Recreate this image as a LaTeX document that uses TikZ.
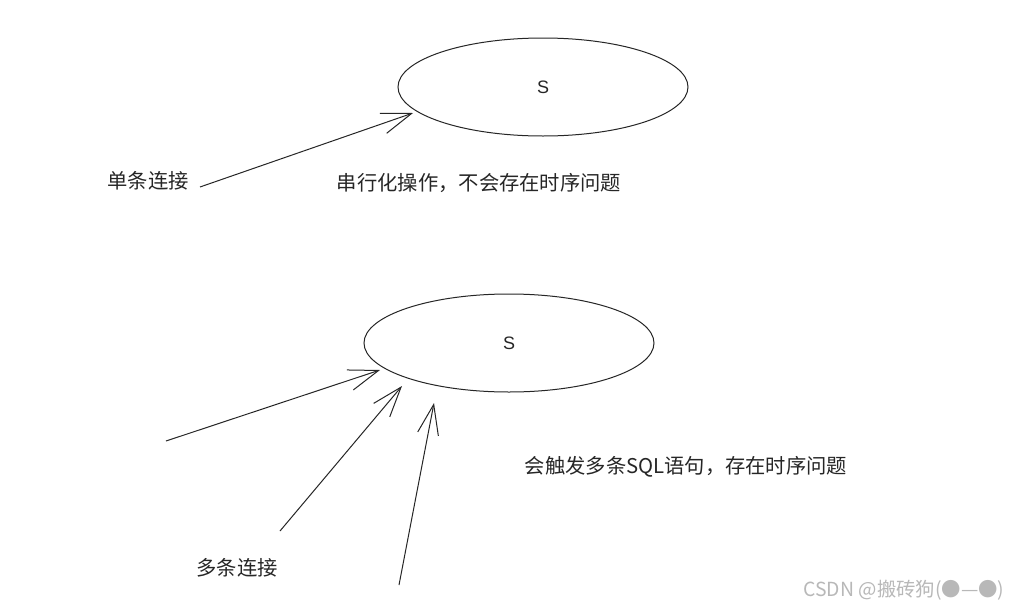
\documentclass[tikz,border=0pt]{standalone}
\usepackage{fontspec}
\setmainfont{Liberation Sans}
\newfontfamily\cjk{Noto Sans CJK SC}
\usetikzlibrary{arrows.meta,shapes.geometric}
\tikzset{
	sline/.style={line width=1pt, color=black!85},
	sarrow/.style={sline, -{Straight Barb[length=30pt,width=21pt]}},
	sbubble/.style={sline, ellipse, minimum width=290pt, minimum height=98pt, inner sep=0pt, font=\fontsize{18}{20}\selectfont, text=black!85},
	stext/.style={font=\cjk\fontsize{20.3}{23}\selectfont, text=black!85, inner sep=0pt},
}

\begin{document}
\begin{tikzpicture}[x=1pt, y=-1pt]
			%%%%% START %%%%%
			\useasboundingbox[fill=white] (0, 0) rectangle (1010, 608);
			
			% single connection
			\node[sbubble, draw] (s1) at (543, 87) {S};
			\node[stext] (single) at (148, 181) {单条连接};
			\node[stext] (serial) at (479, 183) {串行化操作，不会存在时序问题};
			\coordinate (a0) at (200, 187);
			\coordinate (a1) at (413, 113);
			\draw[sarrow] (a0) -- (a1);
			
			% several connections
			\node[sbubble, draw] (s2) at (509, 343) {S};
			\node[stext] (multi) at (237, 568) {多条连接};
			\node[stext] (sqls) at (686, 467) {会触发多条SQL语句，存在时序问题};
			\coordinate (b0) at (166, 441);
			\coordinate (b1) at (380, 370);
			\coordinate (c0) at (280, 531);
			\coordinate (c1) at (402, 386);
			\coordinate (d0) at (399, 585);
			\coordinate (d1) at (434, 403);
			\draw[sarrow] (b0) -- (b1);
			\draw[sarrow] (c0) -- (c1);
			\draw[sarrow] (d0) -- (d1);
			
			\node[font=\cjk\fontsize{19.4}{22}\selectfont, text=black!28, inner sep=0pt] (mark) at (904, 590) {CSDN @搬砖狗(●—●)};
			%%%%% END %%%%%
\end{tikzpicture}
\end{document}
